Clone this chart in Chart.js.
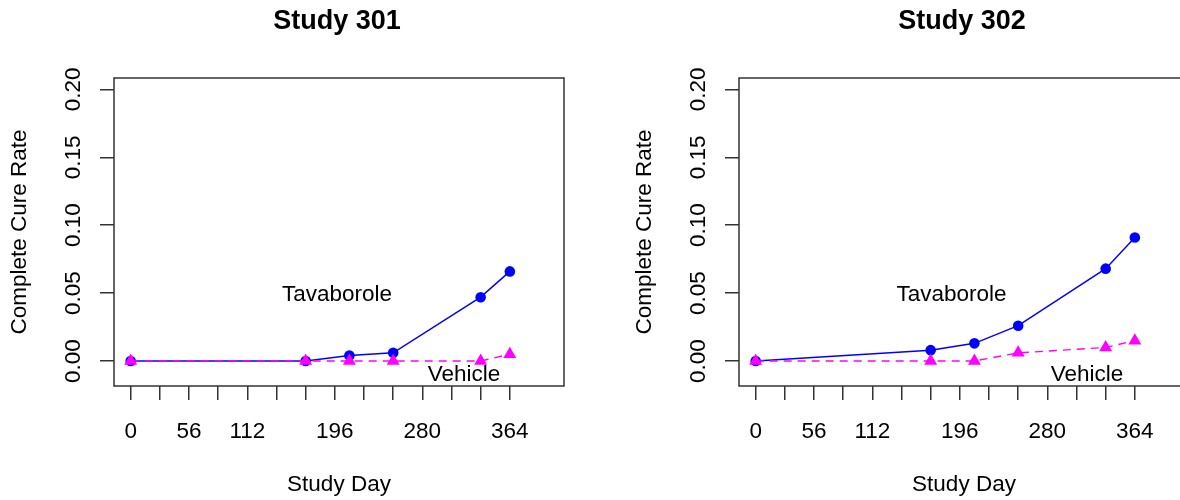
<!DOCTYPE html>
<html>
<head>
<meta charset="utf-8">
<script src="https://cdn.jsdelivr.net/npm/chart.js@4/dist/chart.umd.min.js"></script>
<style>
  html, body { margin: 0; padding: 0; background: #fff; overflow: hidden; }
  #wrap { position: relative; width: 1180px; height: 500px; overflow: hidden; }
  canvas { position: absolute; top: 0; }
</style>
</head>
<body>
<div id="wrap">
  <canvas id="c301" width="590" height="500" style="left:0px"></canvas>
  <canvas id="c302" width="590" height="500" style="left:625px"></canvas>
</div>
<script>
// study visit days (weeks 0, 24, 30, 36, 48, 52)
const days = [0, 168, 210, 252, 336, 364];

// complete cure rate by visit
const tav301 = [0, 0, 0.004, 0.006, 0.047, 0.066];
const veh301 = [0, 0, 0, 0, 0, 0.005];
const tav302 = [0, 0.008, 0.013, 0.026, 0.068, 0.091];
const veh302 = [0, 0, 0, 0.006, 0.010, 0.015];

// axis ticks
const dayTicks = [0, 28, 56, 84, 112, 140, 168, 196, 224, 252, 280, 308, 336, 364];
const dayLabels = [0, 56, 112, 196, 280, 364];
const rateTicks = [0, 0.05, 0.10, 0.15, 0.20];

// text labels placed in data units: [day, rate]
const tavLabelPos301 = [198, 0.049];
const vehLabelPos301 = [320, -0.01];
const tavLabelPos302 = [188, 0.049];
const vehLabelPos302 = [318, -0.01];

const FONT = '"Liberation Sans", Arial, sans-serif';
const AXIS = '#333';

function pts(ys) {
  return days.map((d, i) => ({ x: d, y: ys[i] }));
}

// box, rotated y tick labels, titles and in-plot text
const decor = {
  id: 'decor',
  afterDraw(chart, args, opts) {
    const { ctx, chartArea: a, scales } = chart;
    const xs = scales.x, ys = scales.y;
    ctx.save();
    ctx.strokeStyle = AXIS;
    ctx.lineWidth = 1.5;
    ctx.strokeRect(a.left, a.top, a.right - a.left, a.bottom - a.top);

    ctx.fillStyle = '#000';
    ctx.textAlign = 'center';
    ctx.textBaseline = 'middle';
    ctx.font = '22.5px ' + FONT;
    rateTicks.forEach(v => {
      ctx.save();
      ctx.translate(a.left - 40, ys.getPixelForValue(v));
      ctx.rotate(-Math.PI / 2);
      ctx.fillText(v.toFixed(2), 0, 0);
      ctx.restore();
    });

    ctx.save();
    ctx.translate(a.left - 94, (a.top + a.bottom) / 2);
    ctx.rotate(-Math.PI / 2);
    ctx.fillText('Complete Cure Rate', 0, 0);
    ctx.restore();

    const cx = (a.left + a.right) / 2;
    ctx.fillText('Study Day', cx, a.bottom + 99);

    ctx.fillText('Tavaborole', xs.getPixelForValue(opts.tav[0]), ys.getPixelForValue(opts.tav[1]));
    ctx.fillText('Vehicle', xs.getPixelForValue(opts.veh[0]), ys.getPixelForValue(opts.veh[1]));

    ctx.font = 'bold 27px ' + FONT;
    ctx.fillText(opts.title, cx - 2, a.top - 56);
    ctx.restore();
  }
};

function makeChart(id, title, tav, veh, tavPos, vehPos) {
  return new Chart(document.getElementById(id), {
    type: 'line',
    data: {
      datasets: [
        {
          label: 'Vehicle',
          data: pts(veh),
          order: 0,
          borderColor: '#ff00ff',
          backgroundColor: '#ff00ff',
          borderWidth: 1.4,
          borderDash: [8, 6],
          pointStyle: 'triangle',
          pointRadius: 7.5,
          pointBorderWidth: 0,
          pointBackgroundColor: '#ff00ff',
          tension: 0
        },
        {
          label: 'Tavaborole',
          data: pts(tav),
          order: 1,
          borderColor: '#0000ff',
          backgroundColor: '#0000ff',
          borderWidth: 1.5,
          pointStyle: 'circle',
          pointRadius: 5.3,
          pointBorderWidth: 0,
          pointBackgroundColor: '#0000ff',
          tension: 0
        }
      ]
    },
    options: {
      responsive: false,
      animation: false,
      devicePixelRatio: 1,
      layout: { padding: { top: 78, right: 26, left: 0, bottom: 0 } },
      plugins: {
        legend: { display: false },
        title: { display: false },
        tooltip: { enabled: false },
        decor: { title: title, tav: tavPos, veh: vehPos }
      },
      scales: {
        x: {
          type: 'linear',
          min: -16,
          max: 416,
          afterBuildTicks: s => { s.ticks = dayTicks.map(v => ({ value: v })); },
          afterFit: s => { s.height = 114; },
          grid: { drawOnChartArea: false, drawTicks: true, tickLength: 14, color: AXIS, lineWidth: 1.5 },
          border: { display: false },
          ticks: {
            autoSkip: false,
            maxRotation: 0,
            padding: 18,
            color: '#000',
            font: { family: FONT, size: 22.5 },
            callback: v => dayLabels.includes(v) ? String(v) : ''
          }
        },
        y: {
          type: 'linear',
          min: -0.0184,
          max: 0.2084,
          afterBuildTicks: s => { s.ticks = rateTicks.map(v => ({ value: v })); },
          afterFit: s => { s.width = 114; },
          grid: { drawOnChartArea: false, drawTicks: true, tickLength: 14, color: AXIS, lineWidth: 1.5 },
          border: { display: false },
          ticks: { display: false }
        }
      }
    },
    plugins: [decor]
  });
}

makeChart('c301', 'Study 301', tav301, veh301, tavLabelPos301, vehLabelPos301);
makeChart('c302', 'Study 302', tav302, veh302, tavLabelPos302, vehLabelPos302);
</script>
</body>
</html>
